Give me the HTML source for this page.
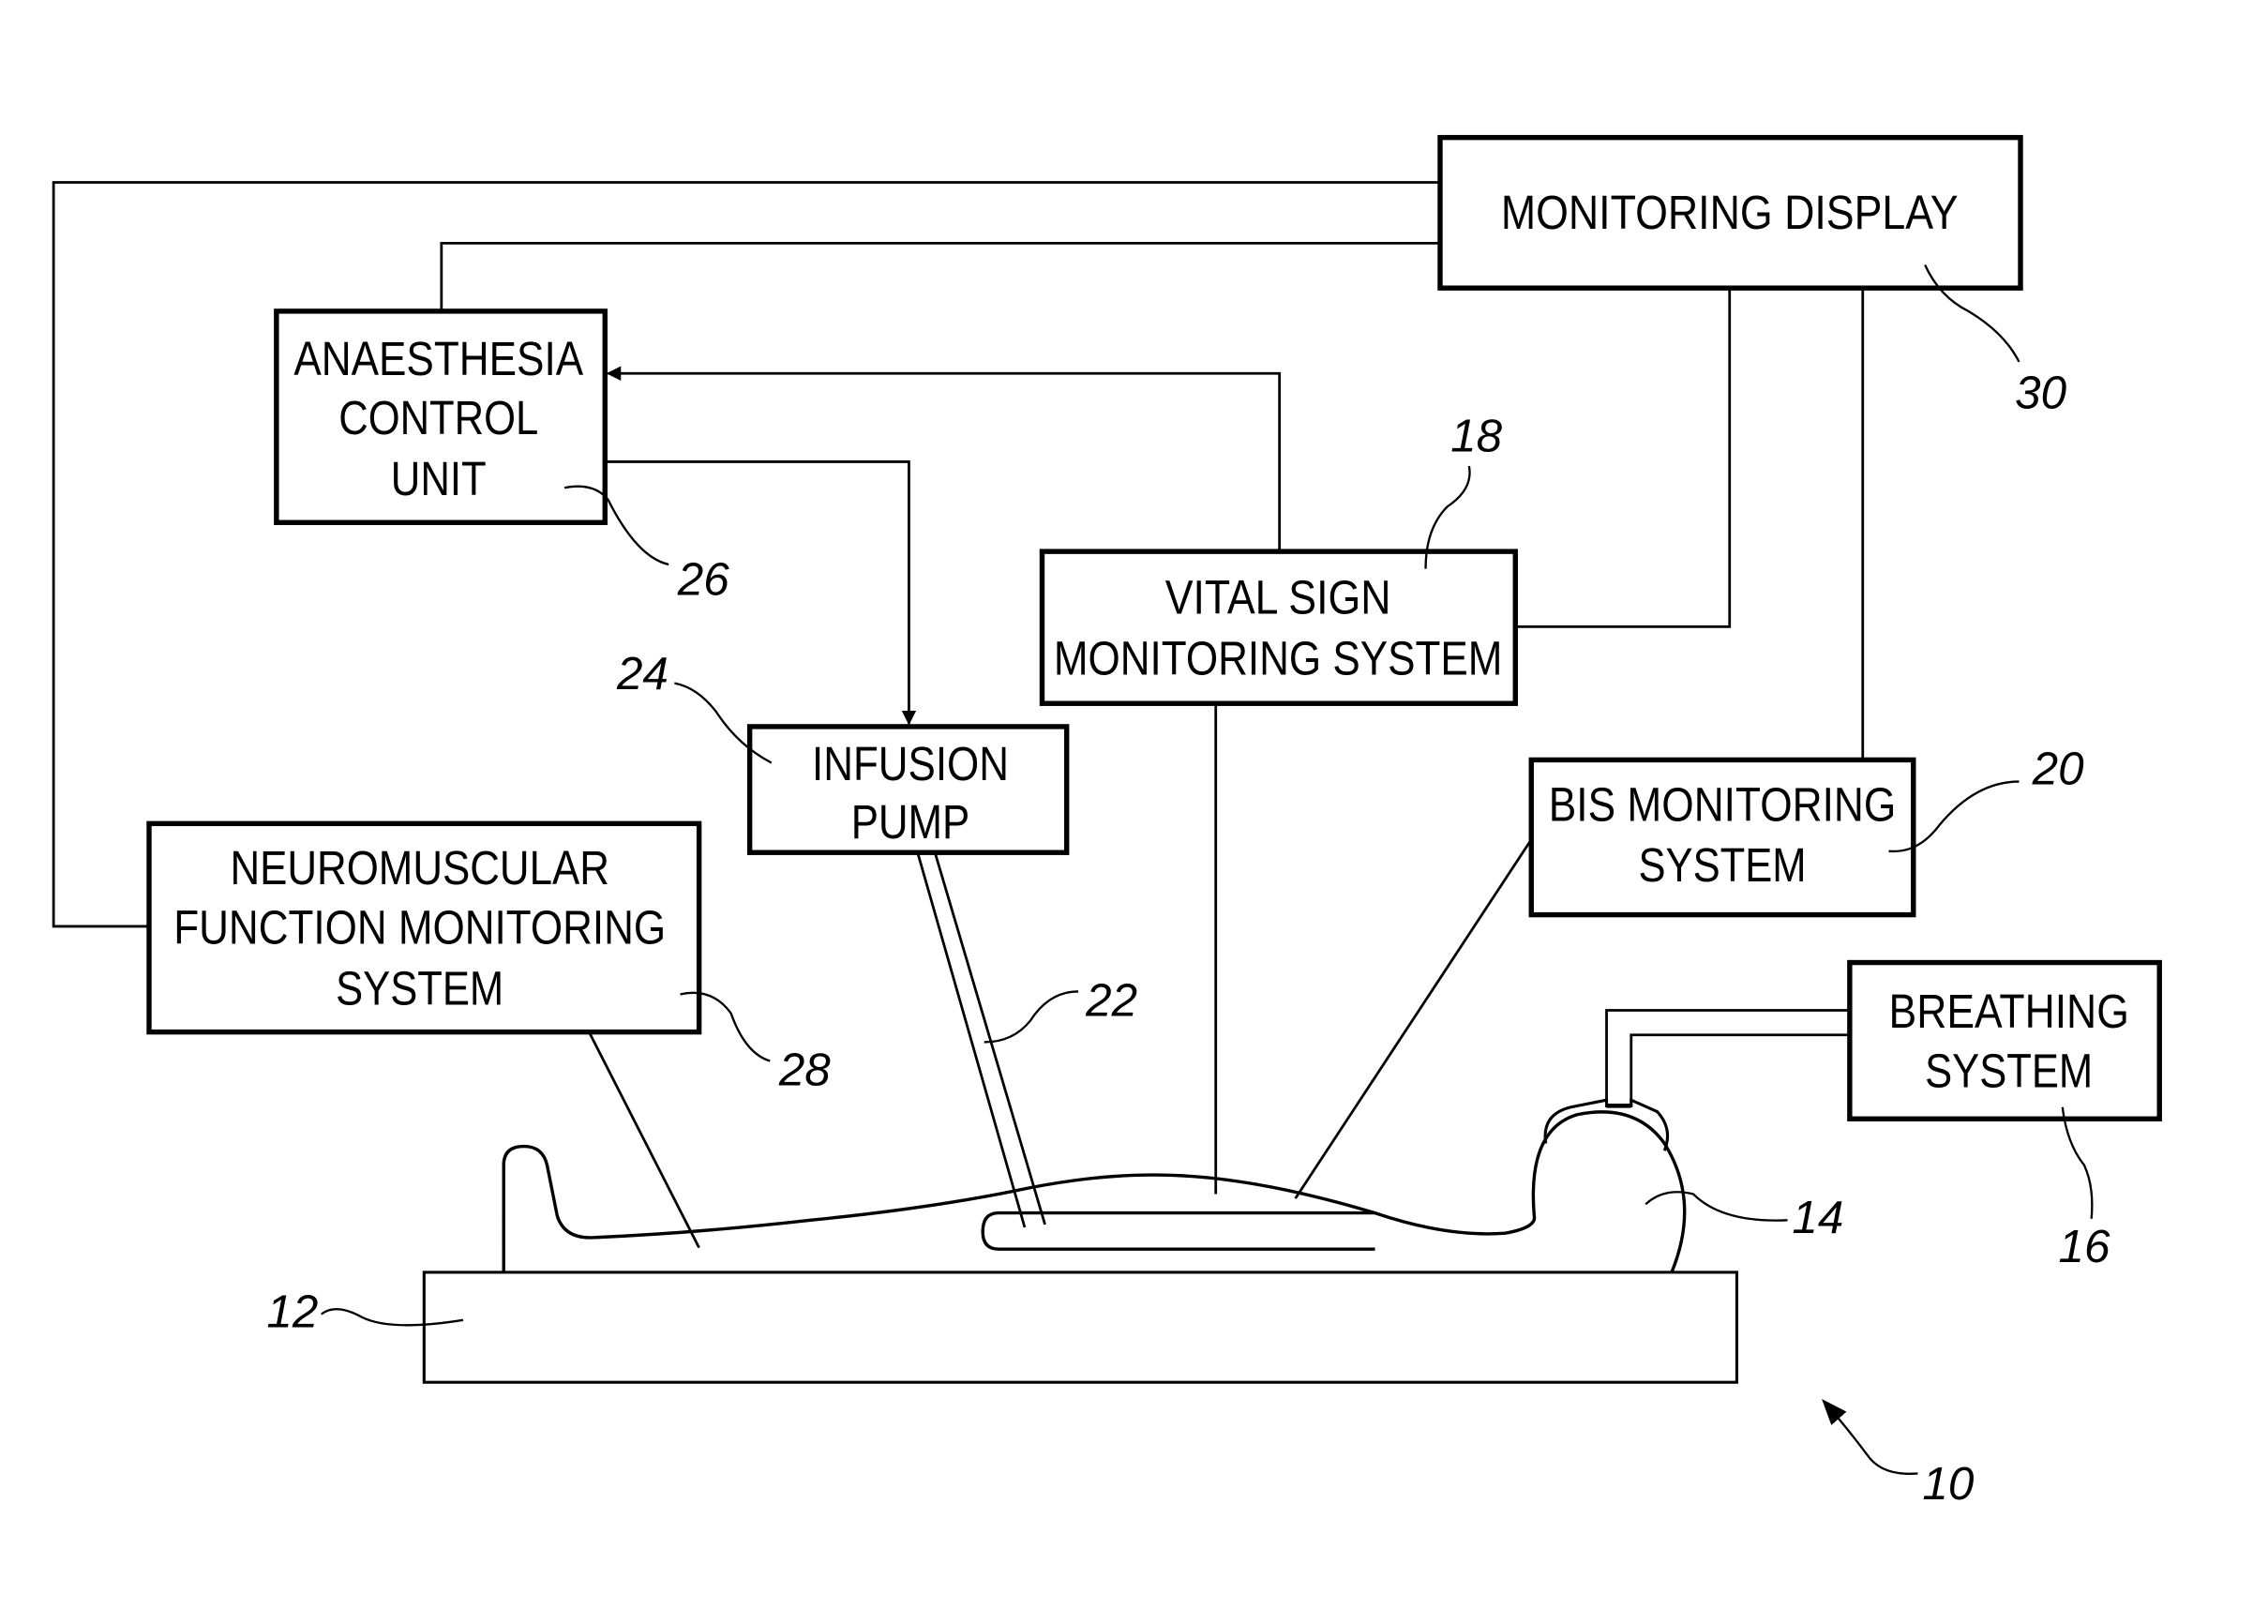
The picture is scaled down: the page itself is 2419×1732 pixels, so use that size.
<!DOCTYPE html>
<html><head><style>
html,body{margin:0;padding:0;background:#fff;}
svg{display:block;}
text{font-family:"Liberation Sans Narrow","Liberation Sans",sans-serif;fill:#000;}
.lb{font-size:33px;text-anchor:middle;}
.num{font-size:32px;font-style:italic;text-anchor:middle;}
</style></head><body>
<svg width="2419" height="1732" viewBox="0 0 1567 1122" preserveAspectRatio="none" xmlns="http://www.w3.org/2000/svg">
<defs><marker id="ah" markerWidth="10" markerHeight="10" refX="9" refY="5" orient="auto" markerUnits="userSpaceOnUse"><path d="M0,0 L10,5 L0,10 Z" fill="#000"/></marker>
<marker id="ah2" markerWidth="18" markerHeight="14" refX="16" refY="7" orient="auto" markerUnits="userSpaceOnUse"><path d="M0,0 L18,7 L0,14 Z" fill="#000"/></marker></defs>
<g fill="none" stroke="#000">
<rect x="995" y="95" width="401" height="104" stroke-width="3.5"/>
<rect x="191" y="215" width="227" height="146" stroke-width="3.5"/>
<rect x="720" y="381" width="327" height="105" stroke-width="3.5"/>
<rect x="1058" y="525" width="264" height="107" stroke-width="3.5"/>
<rect x="518" y="502" width="219" height="87" stroke-width="3.5"/>
<rect x="103" y="569" width="380" height="144" stroke-width="3.5"/>
<rect x="1278" y="665" width="214" height="108" stroke-width="3.5"/>
<rect x="293" y="879" width="907" height="76" stroke-width="2"/>
<g stroke-width="1.8">
<polyline points="995,126 37,126 37,640 103,640"/>
<polyline points="995,168 305,168 305,215"/>
<polyline points="884,381 884,258 420,258" marker-end="url(#ah)"/>
<polyline points="418,319 628,319 628,500" marker-end="url(#ah)"/>
<polyline points="1047,433 1195,433 1195,199"/>
<line x1="1287" y1="199" x2="1287" y2="525"/>
<line x1="840" y1="486" x2="840" y2="825"/>
<line x1="1058" y1="580" x2="895" y2="828"/>
<line x1="407" y1="713" x2="483" y2="862"/>
<line x1="634" y1="589" x2="708" y2="848"/>
<line x1="646" y1="589" x2="722" y2="846"/>
<polyline points="1278,698 1110,698 1110,765"/>
<polyline points="1278,715 1127,715 1127,765"/>
</g>
<path d="M348,879 L348,805 Q348,792 362,792 Q375,792 378,805 L385,840 Q390,856 410,855 Q480,852 560,843 Q640,835 700,823 Q760,810 810,812 Q870,814 950,838 Q1000,855 1040,852 Q1062,848 1060,840 Q1055,780 1090,770 Q1130,762 1150,790 Q1175,830 1155,879" stroke-width="2.2"/>
<path d="M1068,790 Q1065,770 1085,765 L1110,760 L1110,765 M1127,765 L1127,760 L1145,768 Q1156,780 1150,795" stroke-width="2"/>
<line x1="1110" y1="764" x2="1127" y2="764" stroke-width="3"/>
<path d="M950,838 L690,838 Q679,838 679,851 Q679,863 690,863 L950,863" stroke-width="2.2"/>
<g stroke-width="1.5">
<path d="M1330,183 Q1340,205 1360,215 Q1385,230 1395,250"/>
<path d="M1015,322 Q1018,338 1000,350 Q985,365 985,393"/>
<path d="M390,337 Q410,333 420,345 Q440,385 462,390"/>
<path d="M466,472 Q482,475 495,492 Q510,515 533,527"/>
<path d="M1305,588 Q1325,590 1340,570 Q1365,540 1395,540"/>
<path d="M680,720 Q700,720 712,705 Q725,685 745,685"/>
<path d="M470,687 Q492,682 505,700 Q515,728 532,733"/>
<path d="M1137,832 Q1150,820 1170,825 Q1190,845 1235,843"/>
<path d="M1425,765 Q1428,790 1440,805 Q1447,820 1445,842"/>
<path d="M222,908 Q232,900 250,910 Q270,920 320,912"/>
<path d="M1325,1018 Q1300,1020 1290,1005 Q1275,985 1260,968" marker-end="url(#ah2)"/>
</g>
</g>
<text class="lb" x="1195" y="158" textLength="316" lengthAdjust="spacingAndGlyphs">MONITORING DISPLAY</text>
<text class="lb" x="303" y="259" textLength="200" lengthAdjust="spacingAndGlyphs">ANAESTHESIA</text>
<text class="lb" x="303" y="300" textLength="138" lengthAdjust="spacingAndGlyphs">CONTROL</text>
<text class="lb" x="303" y="342" textLength="66" lengthAdjust="spacingAndGlyphs">UNIT</text>
<text class="lb" x="883" y="424" textLength="156" lengthAdjust="spacingAndGlyphs">VITAL SIGN</text>
<text class="lb" x="883" y="466" textLength="310" lengthAdjust="spacingAndGlyphs">MONITORING SYSTEM</text>
<text class="lb" x="1190" y="567" textLength="240" lengthAdjust="spacingAndGlyphs">BIS MONITORING</text>
<text class="lb" x="1190" y="609" textLength="116" lengthAdjust="spacingAndGlyphs">SYSTEM</text>
<text class="lb" x="629" y="539" textLength="136" lengthAdjust="spacingAndGlyphs">INFUSION</text>
<text class="lb" x="629" y="579" textLength="82" lengthAdjust="spacingAndGlyphs">PUMP</text>
<text class="lb" x="290" y="611" textLength="262" lengthAdjust="spacingAndGlyphs">NEUROMUSCULAR</text>
<text class="lb" x="290" y="652" textLength="340" lengthAdjust="spacingAndGlyphs">FUNCTION MONITORING</text>
<text class="lb" x="290" y="694" textLength="116" lengthAdjust="spacingAndGlyphs">SYSTEM</text>
<text class="lb" x="1388" y="710" textLength="166" lengthAdjust="spacingAndGlyphs">BREATHING</text>
<text class="lb" x="1388" y="751" textLength="116" lengthAdjust="spacingAndGlyphs">SYSTEM</text>
<text class="num" x="1410" y="282">30</text>
<text class="num" x="1020" y="312">18</text>
<text class="num" x="486" y="411">26</text>
<text class="num" x="444" y="476">24</text>
<text class="num" x="1422" y="542">20</text>
<text class="num" x="768" y="702">22</text>
<text class="num" x="556" y="750">28</text>
<text class="num" x="1256" y="852">14</text>
<text class="num" x="1440" y="872">16</text>
<text class="num" x="202" y="917">12</text>
<text class="num" x="1346" y="1036">10</text>
</svg>
</body></html>
